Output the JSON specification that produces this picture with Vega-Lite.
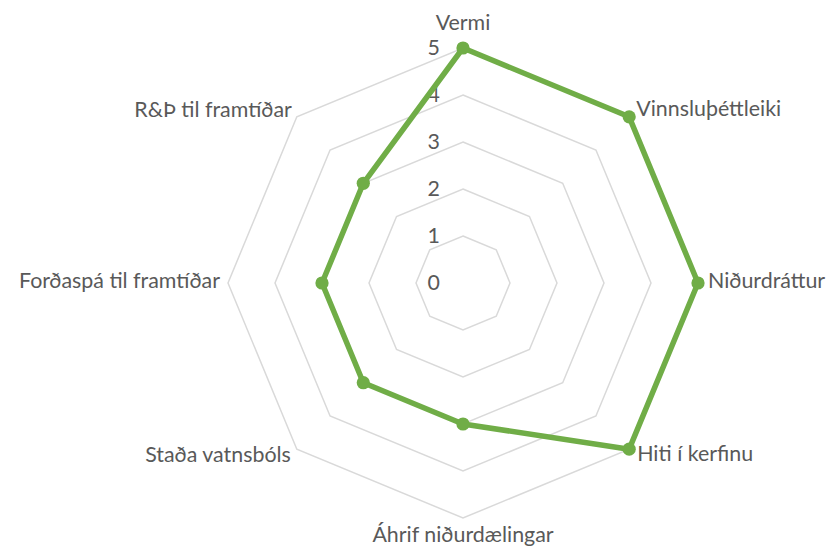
{
  "$schema": "https://vega.github.io/schema/vega-lite/v6.json",
  "width": 470,
  "height": 470,
  "autosize": "none",
  "padding": {"left": 228, "top": 48, "right": 137, "bottom": 33},
  "background": "white",
  "config": {"view": {"stroke": null}, "text": {"font": "Lato", "fontSize": 21.4, "color": "#595959"}},
  "datasets": {
    "scores": [
      {"i": 0, "axis": "Vermi", "value": 5},
      {"i": 1, "axis": "Vinnsluþéttleiki", "value": 5},
      {"i": 2, "axis": "Niðurdráttur", "value": 5},
      {"i": 3, "axis": "Hiti í kerfinu", "value": 5},
      {"i": 4, "axis": "Áhrif niðurdælingar", "value": 3},
      {"i": 5, "axis": "Staða vatnsbóls", "value": 3},
      {"i": 6, "axis": "Forðaspá til framtíðar", "value": 3},
      {"i": 7, "axis": "R&Þ til framtíðar", "value": 3}
    ],
    "rings": [
      {"i": 0, "r": 1}, {"i": 1, "r": 1}, {"i": 2, "r": 1}, {"i": 3, "r": 1}, {"i": 4, "r": 1}, {"i": 5, "r": 1}, {"i": 6, "r": 1}, {"i": 7, "r": 1},
      {"i": 0, "r": 2}, {"i": 1, "r": 2}, {"i": 2, "r": 2}, {"i": 3, "r": 2}, {"i": 4, "r": 2}, {"i": 5, "r": 2}, {"i": 6, "r": 2}, {"i": 7, "r": 2},
      {"i": 0, "r": 3}, {"i": 1, "r": 3}, {"i": 2, "r": 3}, {"i": 3, "r": 3}, {"i": 4, "r": 3}, {"i": 5, "r": 3}, {"i": 6, "r": 3}, {"i": 7, "r": 3},
      {"i": 0, "r": 4}, {"i": 1, "r": 4}, {"i": 2, "r": 4}, {"i": 3, "r": 4}, {"i": 4, "r": 4}, {"i": 5, "r": 4}, {"i": 6, "r": 4}, {"i": 7, "r": 4},
      {"i": 0, "r": 5}, {"i": 1, "r": 5}, {"i": 2, "r": 5}, {"i": 3, "r": 5}, {"i": 4, "r": 5}, {"i": 5, "r": 5}, {"i": 6, "r": 5}, {"i": 7, "r": 5}
    ],
    "ticks": [{"t": 0}, {"t": 1}, {"t": 2}, {"t": 3}, {"t": 4}, {"t": 5}]
  },
  "layer": [
    {
      "data": {"name": "rings"},
      "transform": [
        {"calculate": "datum.r * sin(datum.i * PI / 4)", "as": "px"},
        {"calculate": "datum.r * cos(datum.i * PI / 4)", "as": "py"}
      ],
      "mark": {"type": "line", "interpolate": "linear-closed", "color": "#D9D9D9", "strokeWidth": 1.5},
      "encoding": {
        "x": {"field": "px", "type": "quantitative", "scale": {"domain": [-5, 5]}, "axis": null},
        "y": {"field": "py", "type": "quantitative", "scale": {"domain": [-5, 5]}, "axis": null},
        "detail": {"field": "r"},
        "order": {"field": "i"}
      }
    },
    {
      "data": {"name": "ticks"},
      "mark": {"type": "text", "align": "right", "baseline": "alphabetic", "dx": -23, "dy": 7},
      "encoding": {
        "x": {"datum": 0, "type": "quantitative"},
        "y": {"field": "t", "type": "quantitative"},
        "text": {"field": "t", "type": "quantitative"}
      }
    },
    {
      "data": {"name": "scores"},
      "transform": [
        {"calculate": "datum.value * sin(datum.i * PI / 4)", "as": "px"},
        {"calculate": "datum.value * cos(datum.i * PI / 4)", "as": "py"}
      ],
      "layer": [
        {
          "mark": {"type": "line", "interpolate": "linear-closed", "color": "#70AD47", "strokeWidth": 5.5, "strokeJoin": "round"},
          "encoding": {
            "x": {"field": "px", "type": "quantitative"},
            "y": {"field": "py", "type": "quantitative"},
            "order": {"field": "i"}
          }
        },
        {
          "mark": {"type": "circle", "color": "#70AD47", "opacity": 1, "size": 175},
          "encoding": {
            "x": {"field": "px", "type": "quantitative"},
            "y": {"field": "py", "type": "quantitative"}
          }
        }
      ]
    },
    {
      "data": {"name": "scores"},
      "transform": [
        {"calculate": "5 * sin(datum.i * PI / 4)", "as": "px"},
        {"calculate": "5 * cos(datum.i * PI / 4)", "as": "py"}
      ],
      "encoding": {
        "x": {"field": "px", "type": "quantitative"},
        "y": {"field": "py", "type": "quantitative"},
        "text": {"field": "axis"}
      },
      "layer": [
        {"transform": [{"filter": "datum.i == 0"}], "mark": {"type": "text", "align": "center", "baseline": "alphabetic", "dy": -18}},
        {"transform": [{"filter": "datum.i == 1"}], "mark": {"type": "text", "align": "left", "baseline": "alphabetic", "dx": 7, "dy": -1}},
        {"transform": [{"filter": "datum.i == 2"}], "mark": {"type": "text", "align": "left", "baseline": "alphabetic", "dx": 10, "dy": 5}},
        {"transform": [{"filter": "datum.i == 3"}], "mark": {"type": "text", "align": "left", "baseline": "alphabetic", "dx": 8, "dy": 12}},
        {"transform": [{"filter": "datum.i == 4"}], "mark": {"type": "text", "align": "center", "baseline": "alphabetic", "dy": 24}},
        {"transform": [{"filter": "datum.i == 5"}], "mark": {"type": "text", "align": "right", "baseline": "alphabetic", "dx": -6, "dy": 13}},
        {"transform": [{"filter": "datum.i == 6"}], "mark": {"type": "text", "align": "right", "baseline": "alphabetic", "dx": -8, "dy": 5}},
        {"transform": [{"filter": "datum.i == 7"}], "mark": {"type": "text", "align": "right", "baseline": "alphabetic", "dx": -5, "dy": 0}}
      ]
    }
  ]
}
